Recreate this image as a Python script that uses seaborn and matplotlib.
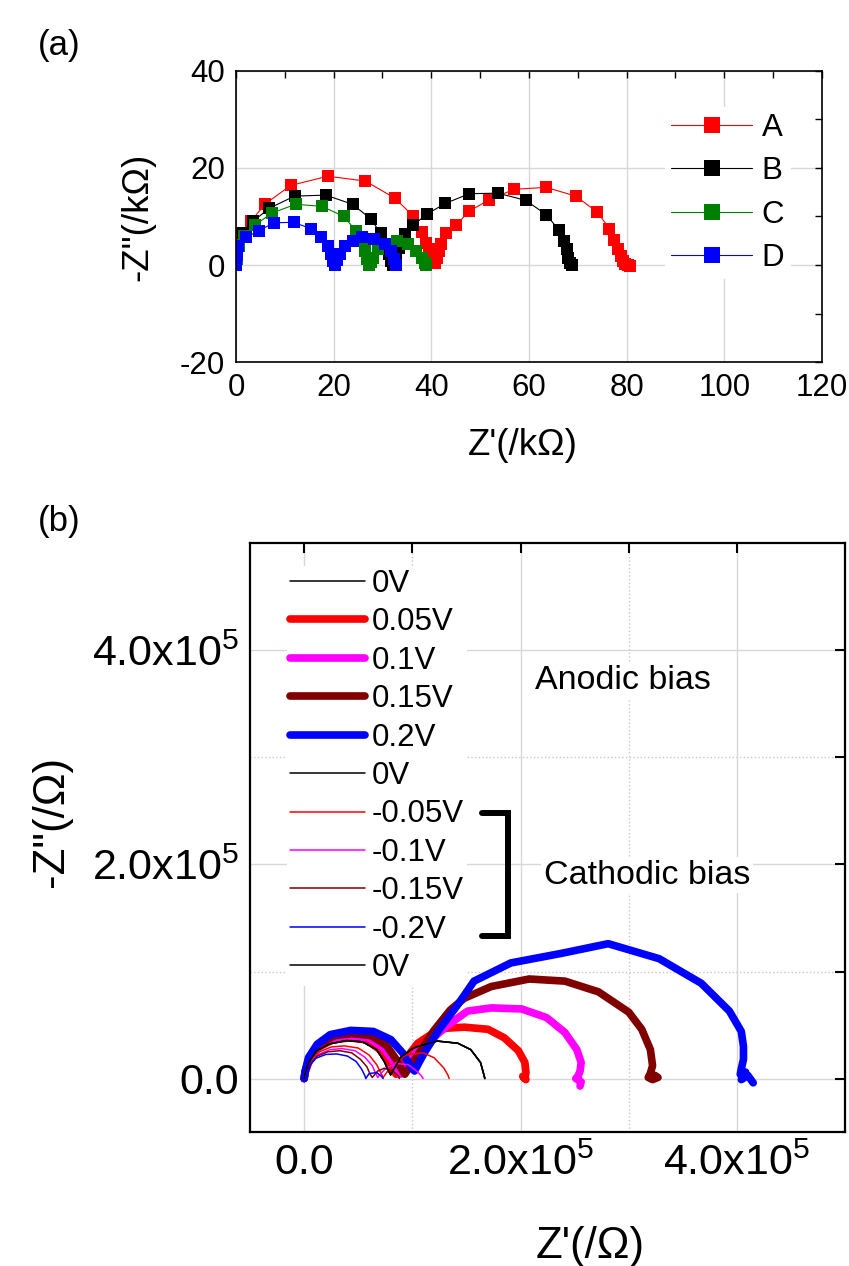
import numpy as np
import pandas as pd
import matplotlib
matplotlib.use("Agg")
import matplotlib.pyplot as plt
import seaborn as sns
from matplotlib.ticker import MultipleLocator, FixedLocator

# ---------------- panel (a): Nyquist plots of samples A-D (kOhm) ----------------
a_x = [0.3, 1.0, 3.1, 6.0, 11.2, 18.8, 26.5, 32.5, 36.2, 38.0, 39.0, 39.6, 40.0, 40.4, 40.8,
       41.2, 41.6, 42.0, 43.1, 45.1, 47.8, 51.9, 57.0, 63.5, 69.6, 74.0, 76.5, 77.5, 78.2,
       78.8, 79.2, 79.6, 80.2, 80.8]
a_y = [4.8, 6.4, 9.1, 12.6, 16.4, 18.3, 17.3, 13.8, 10.2, 6.9, 4.6, 3.2, 2.0, 1.0, 0.4,
       1.5, 2.9, 4.3, 6.5, 8.3, 11.1, 13.5, 15.6, 16.0, 14.2, 10.9, 7.5, 5.1, 3.3,
       1.8, 0.9, 0.3, 0.0, -0.1]

b_x = [0.3, 1.5, 3.5, 6.8, 12.0, 18.4, 23.9, 27.6, 29.6, 31.0, 31.4, 31.8, 32.2, 32.5, 32.8,
       33.3, 34.7, 36.3, 39.1, 42.9, 47.8, 53.7, 59.4, 63.5, 66.1, 67.2, 67.7, 68.1, 68.4, 68.8]
b_y = [3.5, 6.5, 9.0, 11.7, 14.2, 14.4, 12.5, 9.5, 6.6, 3.9, 2.2, 0.8, 0.0, 1.0, 2.2,
       3.6, 6.4, 8.2, 10.5, 12.7, 14.7, 14.8, 13.3, 10.4, 7.3, 5.0, 3.3, 1.5, 0.5, 0.0]

c_x = [0.0, 0.1, 0.2, 0.6, 1.6, 3.9, 7.3, 12.2, 17.6, 22.1, 24.5, 25.9, 26.4, 26.9, 27.2,
       27.6, 28.0, 29.0, 30.6, 32.9, 35.3, 36.9, 38.0, 38.7, 39.0]
c_y = [0.0, 1.2, 2.2, 4.0, 6.0, 8.2, 10.7, 12.5, 12.1, 10.0, 7.1, 5.0, 2.9, 1.2, 0.0,
       0.7, 1.5, 3.3, 4.3, 5.0, 4.3, 2.9, 1.5, 0.5, 0.0]

d_x = [0.0, 0.2, 0.4, 2.1, 4.7, 7.8, 11.8, 15.3, 17.5, 18.8, 19.4, 19.8, 20.2, 20.7, 21.2,
       22.4, 23.9, 25.9, 28.2, 30.6, 31.8, 32.4, 32.7]
d_y = [0.0, 2.0, 3.9, 5.7, 7.1, 8.7, 8.8, 7.5, 5.7, 3.9, 2.2, 0.8, 0.0, 1.0, 2.2,
       3.9, 5.0, 5.7, 5.3, 4.3, 2.9, 1.2, 0.0]

samples = ["A", "B", "C", "D"]
sample_colors = ["#ff0000", "#000000", "#008000", "#0000ff"]

# ---------------- panel (b): bias dependent spectra (units of 1e5 Ohm) ----------------
v0_x = [0.0, 0.01, 0.034, 0.11, 0.235, 0.39, 0.54, 0.67, 0.74, 0.78, 0.80, 0.83, 0.89, 1.0,
        1.05, 1.23, 1.42, 1.54, 1.63, 1.66, 1.67]
v0_y = [0.0, 0.06, 0.13, 0.256, 0.324, 0.355, 0.343, 0.27, 0.16, 0.07, 0.034, 0.09, 0.195,
        0.28, 0.30, 0.35, 0.33, 0.27, 0.15, 0.04, 0.0]

p005_x = [0.0, 0.01, 0.05, 0.13, 0.26, 0.42, 0.58, 0.70, 0.78, 0.82, 0.85, 0.95, 1.05, 1.17,
          1.31, 1.48, 1.70, 1.85, 1.98, 2.04, 2.05, 2.04, 2.02, 2.05]
p005_y = [0.0, 0.06, 0.17, 0.29, 0.36, 0.38, 0.36, 0.27, 0.16, 0.08, 0.04, 0.20, 0.33, 0.41,
          0.47, 0.48, 0.46, 0.38, 0.26, 0.15, 0.056, 0.0, 0.02, -0.01]

p01_x = [0.0, 0.01, 0.05, 0.13, 0.27, 0.43, 0.60, 0.73, 0.82, 0.86, 0.89, 0.97, 1.06, 1.17,
         1.33, 1.51, 1.73, 2.01, 2.24, 2.41, 2.52, 2.56, 2.55, 2.53, 2.51, 2.56, 2.55]
p01_y = [0.0, 0.07, 0.18, 0.30, 0.38, 0.40, 0.38, 0.29, 0.17, 0.09, 0.04, 0.16, 0.27, 0.36,
         0.50, 0.63, 0.66, 0.65, 0.57, 0.43, 0.27, 0.15, 0.07, 0.02, 0.0, -0.03, -0.07]

p015_x = [0.0, 0.01, 0.05, 0.13, 0.28, 0.44, 0.62, 0.76, 0.85, 0.90, 0.93, 1.05, 1.20, 1.35,
          1.48, 1.73, 2.08, 2.41, 2.72, 3.0, 3.12, 3.20, 3.22, 3.20, 3.18, 3.22, 3.27, 3.24]
p015_y = [0.0, 0.07, 0.19, 0.32, 0.40, 0.42, 0.40, 0.31, 0.18, 0.09, 0.04, 0.22, 0.45, 0.64,
          0.75, 0.86, 0.93, 0.91, 0.81, 0.62, 0.46, 0.27, 0.12, 0.05, 0.01, -0.01, 0.01, 0.03]

p02_x = [0.0, 0.01, 0.04, 0.12, 0.24, 0.43, 0.64, 0.80, 0.91, 0.98, 1.02, 1.11, 1.25, 1.42,
         1.57, 1.91, 2.38, 2.81, 3.28, 3.67, 3.93, 4.04, 4.06, 4.06, 4.04, 4.03, 4.08, 4.04,
         4.10, 4.15]
p02_y = [0.0, 0.07, 0.195, 0.32, 0.41, 0.45, 0.44, 0.365, 0.24, 0.12, 0.07, 0.24, 0.46, 0.69,
         0.91, 1.08, 1.17, 1.26, 1.12, 0.89, 0.63, 0.44, 0.30, 0.18, 0.09, 0.04, 0.06, -0.01,
         0.03, -0.04]

m005_x = [0.0, 0.01, 0.05, 0.13, 0.25, 0.37, 0.50, 0.60, 0.67, 0.71, 0.73, 0.78, 0.82, 0.94,
          1.10, 1.20, 1.29, 1.33, 1.34]
m005_y = [0.0, 0.06, 0.15, 0.245, 0.295, 0.305, 0.285, 0.22, 0.13, 0.05, 0.01, 0.08, 0.13,
          0.22, 0.24, 0.195, 0.10, 0.03, 0.0]

m01_x = [0.0, 0.01, 0.05, 0.13, 0.24, 0.35, 0.47, 0.56, 0.63, 0.66, 0.68, 0.72, 0.76, 0.85,
         0.96, 1.04, 1.08, 1.10]
m01_y = [0.0, 0.06, 0.14, 0.225, 0.27, 0.28, 0.26, 0.20, 0.12, 0.05, 0.01, 0.06, 0.10, 0.14,
         0.13, 0.07, 0.03, 0.0]

m015_x = [0.0, 0.01, 0.05, 0.12, 0.22, 0.33, 0.44, 0.52, 0.58, 0.61, 0.63, 0.68, 0.74, 0.82,
          0.87, 0.88]
m015_y = [0.0, 0.05, 0.13, 0.21, 0.25, 0.26, 0.24, 0.18, 0.11, 0.04, 0.01, 0.07, 0.096, 0.07,
          0.025, 0.0]

m02_x = [0.0, 0.01, 0.05, 0.11, 0.20, 0.30, 0.40, 0.48, 0.53, 0.56, 0.57, 0.60, 0.67, 0.71, 0.73]
m02_y = [0.0, 0.05, 0.12, 0.19, 0.225, 0.23, 0.21, 0.16, 0.09, 0.03, 0.0, 0.046, 0.056, 0.025, 0.0]

bias_labels = ["0V", "0.05V", "0.1V", "0.15V", "0.2V", "0V",
               "-0.05V", "-0.1V", "-0.15V", "-0.2V", "0V"]
bias_x = [v0_x, p005_x, p01_x, p015_x, p02_x, v0_x, m005_x, m01_x, m015_x, m02_x, v0_x]
bias_y = [v0_y, p005_y, p01_y, p015_y, p02_y, v0_y, m005_y, m01_y, m015_y, m02_y, v0_y]
bias_colors = ["#000000", "#ff0000", "#ff00ff", "#800000", "#0000ff", "#000000",
               "#ff0000", "#ff00ff", "#800000", "#0000ff", "#000000"]
bias_thick = [False, True, True, True, True, False, False, False, False, False, False]
SCALE = 1e5


def style_axes(ax, spine_w, tick_len, tick_w, fs):
    for s in ax.spines.values():
        s.set_visible(True)
        s.set_linewidth(spine_w)
        s.set_color("black")
    ax.tick_params(which="both", direction="in", top=True, right=True,
                   length=tick_len, width=tick_w, pad=8, labelsize=fs,
                   colors="black", labelcolor="black")
    ax.set_axisbelow(True)


def white_legend(leg):
    frame = leg.get_frame()
    frame.set_facecolor("white")
    frame.set_edgecolor("none")
    frame.set_alpha(1)
    # sit above the grid but below the data lines
    leg.set_zorder(1.5)


def main():
    sns.set_theme(style="white")
    plt.rcParams["font.family"] = ["Liberation Sans", "DejaVu Sans"]
    plt.rcParams["mathtext.fontset"] = "custom"
    plt.rcParams["mathtext.rm"] = "Liberation Sans"
    plt.rcParams["mathtext.it"] = "Liberation Sans:italic"
    plt.rcParams["mathtext.bf"] = "Liberation Sans:bold"
    plt.rcParams["axes.unicode_minus"] = False
    plt.rcParams["text.color"] = "black"
    plt.rcParams["axes.labelcolor"] = "black"

    fig = plt.figure(figsize=(8.49, 12.66), dpi=100)
    ax1 = fig.add_axes([0.278, 0.714, 0.690, 0.230])
    ax2 = fig.add_axes([0.2945, 0.1058, 0.701, 0.465])

    # ---------- (a) ----------
    series = [(a_x, a_y), (b_x, b_y), (c_x, c_y), (d_x, d_y)]
    for name, (xs, ys), col in zip(samples, series, sample_colors):
        df = pd.DataFrame({"x": xs, "y": ys})
        sns.lineplot(data=df, x="x", y="y", sort=False, estimator=None, ax=ax1,
                     color=col, lw=0.8, marker="s", markersize=9,
                     markeredgewidth=0, label=name)
    ax1.set_xlim(0, 120)
    ax1.set_ylim(-20, 40)
    ax1.xaxis.set_major_locator(MultipleLocator(20))
    ax1.xaxis.set_minor_locator(MultipleLocator(10))
    ax1.yaxis.set_major_locator(MultipleLocator(20))
    ax1.yaxis.set_minor_locator(MultipleLocator(10))
    ax1.grid(which="major", color="#d8d8d8", lw=1.0)
    style_axes(ax1, 1.2, 5, 1.0, 22.5)
    ax1.set_xlabel("Z'(/k\u03a9)", fontsize=26.5)
    ax1.set_ylabel('-Z"(/k\u03a9)', fontsize=26.5)
    ax1.xaxis.set_label_coords(0.49, -0.227)
    ax1.yaxis.set_label_coords(-0.138, 0.5)
    leg1 = ax1.legend(loc="upper left", bbox_to_anchor=(0.732, 0.876), fontsize=22.5,
                      handlelength=2.6, handletextpad=0.3, labelspacing=0.42,
                      borderaxespad=0, borderpad=0.2, frameon=True, markerscale=1.3)
    white_legend(leg1)

    # ---------- (b) ----------
    for lab, xs, ys, col, thick in zip(bias_labels, bias_x, bias_y, bias_colors, bias_thick):
        df = pd.DataFrame({"x": np.array(xs) * SCALE, "y": np.array(ys) * SCALE})
        sns.lineplot(data=df, x="x", y="y", sort=False, estimator=None, ax=ax2,
                     color=col, lw=5.5 if thick else 1.1, label=lab,
                     solid_capstyle="round", solid_joinstyle="round")
    ax2.set_xlim(-0.5 * SCALE, 5.0 * SCALE)
    ax2.set_ylim(-0.5 * SCALE, 5.0 * SCALE)
    major = [0, 2 * SCALE, 4 * SCALE]
    tick_txt = ["0.0", "2.0x10$^5$", "4.0x10$^5$"]
    ax2.xaxis.set_major_locator(FixedLocator(major))
    ax2.yaxis.set_major_locator(FixedLocator(major))
    ax2.xaxis.set_minor_locator(FixedLocator([SCALE, 3 * SCALE]))
    ax2.yaxis.set_minor_locator(FixedLocator([SCALE, 3 * SCALE]))
    ax2.set_xticklabels(tick_txt)
    ax2.set_yticklabels(tick_txt)
    ax2.grid(which="major", color="#d8d8d8", lw=1.0)
    ax2.grid(which="minor", color="#c8c8c8", lw=1.0, ls=":")
    style_axes(ax2, 1.6, 7, 1.5, 31)
    ax2.set_xlabel("Z'(/\u03a9)", fontsize=31.5)
    ax2.set_ylabel('-Z"(/\u03a9)', fontsize=31.5)
    ax2.xaxis.set_label_coords(0.571, -0.16)
    ax2.yaxis.set_label_coords(-0.299, 0.528)

    leg2 = ax2.legend(loc="upper left", bbox_to_anchor=(0.062, 0.962), fontsize=22.5,
                      handlelength=2.4, handletextpad=0.2, labelspacing=0.27,
                      borderaxespad=0, borderpad=0.1, frameon=True)
    white_legend(leg2)

    ax2.text(2.95 * SCALE, 3.72 * SCALE, "Anodic bias", fontsize=24.5, ha="center", va="center",
             bbox=dict(facecolor="white", edgecolor="none", pad=2))
    ax2.text(3.17 * SCALE, 1.90 * SCALE, "Cathodic bias", fontsize=24.5, ha="center", va="center",
             bbox=dict(facecolor="white", edgecolor="none", pad=2))
    # bracket grouping the cathodic entries
    ax2.plot(np.array([1.64, 1.88, 1.88, 1.64]) * SCALE, np.array([2.48, 2.48, 1.33, 1.33]) * SCALE,
             color="black", lw=4.3, solid_capstyle="round", solid_joinstyle="miter")

    fig.text(38 / 849, 1 - 45 / 1266, "(a)", fontsize=25, va="center", ha="left")
    fig.text(38 / 849, 1 - 522 / 1266, "(b)", fontsize=25, va="center", ha="left")

    fig.savefig("out.png", dpi=100)
    plt.close(fig)


if __name__ == "__main__":
    main()
